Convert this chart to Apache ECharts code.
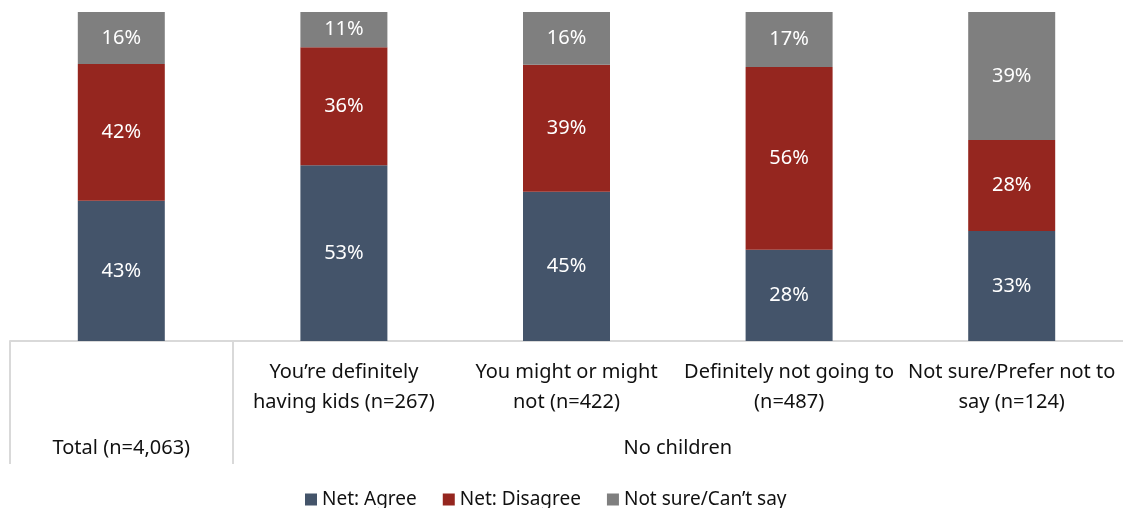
<!DOCTYPE html>
<html>
<head>
<meta charset="utf-8">
<script src="https://cdn.jsdelivr.net/npm/echarts@6/dist/echarts.min.js"></script>
<style>
html,body{margin:0;padding:0;background:#fff;}
#chart{width:1123px;height:508px;}
</style>
</head>
<body>
<div id="chart"></div>
<script>
const categories = [
  '',
  'You\u2019re definitely\nhaving kids (n=267)',
  'You might or might\nnot (n=422)',
  'Definitely not going to\n(n=487)',
  'Not sure/Prefer not to\nsay (n=124)'
];
const groupLabels = ['Total (n=4,063)', 'No children'];
const seriesNames = ['Net: Agree', 'Net: Disagree', 'Not sure/Can\u2019t say'];
const agree    = [42.6, 53.4, 45.4, 27.7, 33.4];
const disagree = [41.6, 35.9, 38.6, 55.6, 27.7];
const notSure  = [15.8, 10.7, 16.0, 16.7, 38.9];

const FONT = '"Noto Sans", "Open Sans", sans-serif';
const colors = ['#44546a', '#95261f', '#7f7f7f'];

function mk(name, data, color) {
  return {
    name: name,
    type: 'bar',
    stack: 'total',
    data: data,
    barWidth: 87,
    itemStyle: { color: color },
    label: {
      show: true,
      position: 'inside',
      color: '#fff',
      fontFamily: FONT,
      fontSize: 20,
      formatter: p => Math.round(p.value) + '%'
    }
  };
}

const chart = echarts.init(document.getElementById('chart'));
chart.setOption({
  animation: false,
  color: colors,
  grid: { left: 10, right: 0, top: 12, bottom: 167, containLabel: false },
  legend: {
    left: 300,
    top: 485,
    icon: 'rect',
    itemWidth: 12,
    itemHeight: 12,
    itemGap: 26,
    textStyle: { fontFamily: FONT, fontSize: 19, color: '#111' },
    data: seriesNames
  },
  xAxis: [
    {
      type: 'category',
      data: categories,
      axisLine: { show: true, lineStyle: { color: '#d9d9d9', width: 2 } },
      axisTick: { show: false },
      axisLabel: {
        interval: 0,
        margin: 16,
        fontFamily: FONT,
        fontSize: 20,
        lineHeight: 30,
        color: '#111'
      }
    },
    {
      type: 'value',
      position: 'bottom',
      min: 0,
      max: 20,
      interval: 1,
      axisLine: { show: false },
      splitLine: { show: false },
      axisTick: {
        show: true,
        customValues: [0, 4],
        length: 123,
        lineStyle: { color: '#d9d9d9', width: 2 }
      },
      axisLabel: {
        customValues: [2, 12],
        margin: 97,
        fontFamily: FONT,
        fontSize: 20,
        color: '#111',
        formatter: v => v === 2 ? groupLabels[0] : groupLabels[1]
      }
    }
  ],
  yAxis: {
    type: 'value',
    min: 0,
    max: 100,
    show: false,
    splitLine: { show: false }
  },
  series: [
    mk(seriesNames[0], agree, colors[0]),
    mk(seriesNames[1], disagree, colors[1]),
    mk(seriesNames[2], notSure, colors[2])
  ]
});
</script>
</body>
</html>
